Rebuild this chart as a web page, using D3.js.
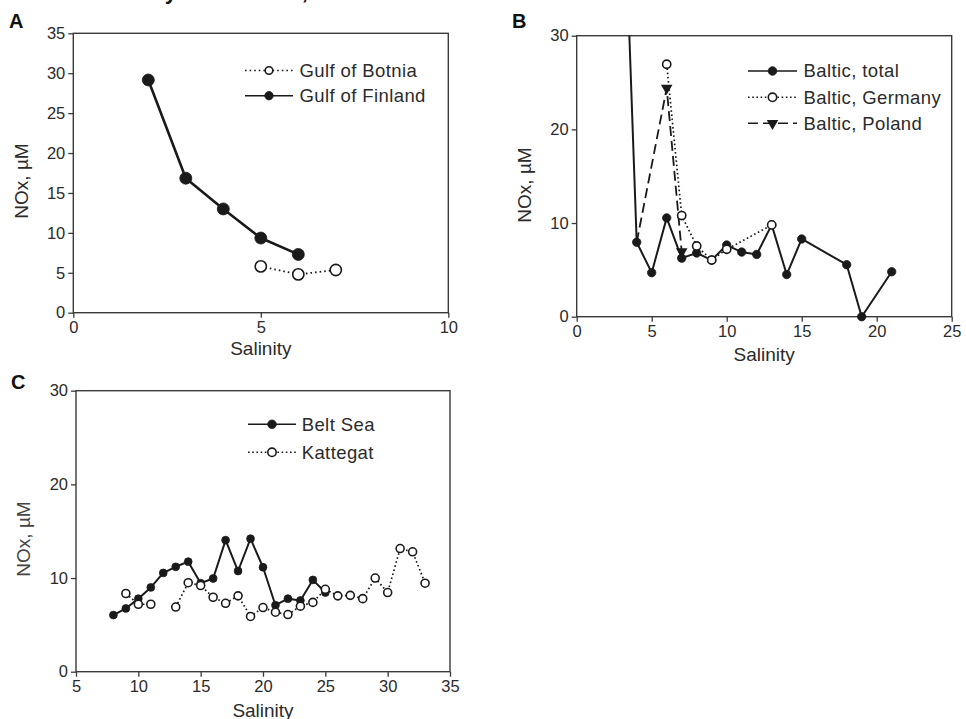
<!DOCTYPE html>
<html>
<head>
<meta charset="utf-8">
<script src="https://cdn.jsdelivr.net/npm/d3@7"></script>
<style>
  html, body { margin: 0; padding: 0; background: #fff; }
  svg { display: block; font-family: "Liberation Sans", Arial, sans-serif; }
</style>
</head>
<body>
<svg id="fig" width="966" height="719"></svg>
<script>
// ---- Panel A: Gulf of Botnia / Gulf of Finland ----
const botniaSal = [5, 6, 7];
const botniaNOx = [5.8, 4.8, 5.35];
const finlandSal = [2, 3, 4, 5, 6];
const finlandNOx = [29.15, 16.85, 13.0, 9.35, 7.3];
const ticksAX = [0, 5, 10];
const ticksAY = [0, 5, 10, 15, 20, 25, 30, 35];

// ---- Panel B: Baltic total / Germany / Poland ----
const balticTotalSal = [3, 4, 5, 6, 7, 8, 9, 10, 11, 12, 13, 14, 15, 18, 19, 21];
const balticTotalNOx = [53, 7.95, 4.7, 10.55, 6.25, 6.8, 6.05, 7.65, 6.9, 6.65, 9.8, 4.5, 8.3, 5.55, 0, 4.8];
const germanySal = [6, 7, 8, 9, 10, 13];
const germanyNOx = [26.95, 10.8, 7.55, 6.05, 7.2, 9.8];
const polandSal = [4, 6, 7];
const polandNOx = [7.95, 24.4, 6.95];
const ticksBX = [0, 5, 10, 15, 20, 25];
const ticksBY = [0, 10, 20, 30];

// ---- Panel C: Belt Sea / Kattegat ----
const beltSal = [8, 9, 10, 11, 12, 13, 14, 15, 16, 17, 18, 19, 20, 21, 22, 23, 24, 25];
const beltNOx = [6.05, 6.75, 7.8, 9.0, 10.55, 11.2, 11.75, 9.45, 9.95, 14.05, 10.75, 14.2, 11.15, 7.1, 7.8, 7.6, 9.8, 8.45];
const kattegatSal = [9, 10, 11, 12, 13, 14, 15, 16, 17, 18, 19, 20, 21, 22, 23, 24, 25, 26, 27, 28, 29, 30, 31, 32, 33];
const kattegatNOx = [8.35, 7.2, 7.2, null, 6.9, 9.5, 9.2, 7.95, 7.3, 8.1, 5.9, 6.85, 6.35, 6.1, 7.0, 7.4, 8.8, 8.1, 8.15, 7.8, 10.0, 8.45, 13.15, 12.8, 9.45];
const ticksCX = [5, 10, 15, 20, 25, 30, 35];
const ticksCY = [0, 10, 20, 30];

const xLabel = "Salinity";
const yLabel = "NOx, µM";

const INK = "#1a1a1a";
const TEXT = "#2b2b2b";
const FRAME = "#3a3a3a";

const svg = d3.select("#fig");

// heading line running off the top edge
svg.append("text")
  .attr("x", 100).attr("y", -1)
  .attr("font-size", 22).attr("font-weight", "bold").attr("fill", "#111")
  .text("NOx by all sea area,");

const zip = (xs, ys) => xs.map((x, i) => ({ x, y: ys[i] }));

function panel(cfg) {
  const g = svg.append("g");
  const x = d3.scaleLinear().domain(cfg.xDomain).range(cfg.xRange);
  const y = d3.scaleLinear().domain(cfg.yDomain).range(cfg.yRange);
  const [x0, x1] = cfg.xRange, [y0, y1] = cfg.yRange;

  // panel letter
  g.append("text").attr("x", cfg.letterPos[0]).attr("y", cfg.letterPos[1])
    .attr("font-size", 20).attr("font-weight", "bold").attr("fill", "#111")
    .text(cfg.letter);

  // axes
  const ax = g.append("g").attr("transform", `translate(0,${y0})`)
    .call(d3.axisBottom(x).tickValues(cfg.xTicks).tickSize(5).tickPadding(4).tickFormat(d3.format("d")));
  const ay = g.append("g").attr("transform", `translate(${x0},0)`)
    .call(d3.axisLeft(y).tickValues(cfg.yTicks).tickSize(5).tickPadding(3).tickFormat(d3.format("d")));
  [ax, ay].forEach(a => {
    a.select(".domain").remove();
    a.selectAll("line").attr("stroke", FRAME).attr("stroke-width", 1.3);
    a.selectAll("text").attr("font-size", 16.5).attr("fill", TEXT)
      .attr("font-family", "Liberation Sans, Arial, sans-serif");
  });

  // frame
  g.append("rect").attr("x", x0).attr("y", y1).attr("width", x1 - x0).attr("height", y0 - y1)
    .attr("fill", "none").attr("stroke", FRAME).attr("stroke-width", 1.4);

  // axis titles
  g.append("text").attr("x", (x0 + x1) / 2).attr("y", cfg.xTitleY)
    .attr("text-anchor", "middle").attr("font-size", 19).attr("fill", TEXT).text(xLabel);
  g.append("text")
    .attr("transform", `translate(${cfg.yTitlePos[0]},${cfg.yTitlePos[1]}) rotate(-90)`)
    .attr("text-anchor", "middle").attr("font-size", 19).attr("fill", cfg.yTitleColor || TEXT).text(yLabel);

  // clip for data
  const clipId = "clip-" + cfg.letter;
  svg.append("clipPath").attr("id", clipId).append("rect")
    .attr("x", x0).attr("y", y1).attr("width", x1 - x0).attr("height", y0 - y1 + 8);
  const data = g.append("g").attr("clip-path", `url(#${clipId})`);

  cfg.series.forEach(s => {
    const pts = zip(s.sal, s.nox);
    const line = d3.line().defined(d => d.y != null).x(d => x(d.x)).y(d => y(d.y));
    data.append("path").datum(pts).attr("d", line)
      .attr("fill", "none").attr("stroke", INK).attr("stroke-width", s.width)
      .attr("stroke-dasharray", s.dash || null).attr("stroke-linejoin", "round");
    drawMarkers(data, pts.filter(d => d.y != null && !(s.skip || []).includes(d.x)), s, x, y, s.r);
  });

  // legend
  cfg.legend.forEach((l, i) => {
    const s = cfg.series[l.idx];
    const ly = cfg.legendY[i];
    g.append("line").attr("x1", cfg.legendX[0]).attr("x2", cfg.legendX[1])
      .attr("y1", ly).attr("y2", ly).attr("stroke", INK).attr("stroke-width", s.legendWidth || 1.6)
      .attr("stroke-dasharray", s.legendDash || s.dash || null);
    const cx = (cfg.legendX[0] + cfg.legendX[1]) / 2;
    drawMarkers(g, [{ x: 0, y: 0 }], s, () => cx, () => ly, s.legendR);
    g.append("text").attr("x", cfg.legendX[2]).attr("y", ly + 6.3)
      .attr("font-size", 18.5).attr("fill", TEXT).attr("letter-spacing", 0.4).text(s.name);
  });
}

function drawMarkers(g, pts, s, x, y, r) {
  if (s.marker === "tri") {
    const sym = d3.symbol().type(d3.symbolTriangle).size(r * r * 3);
    g.selectAll(null).data(pts).enter().append("path")
      .attr("d", sym)
      .attr("transform", d => `translate(${x(d.x)},${y(d.y)}) rotate(180)`)
      .attr("fill", INK);
  } else {
    g.selectAll(null).data(pts).enter().append("circle")
      .attr("cx", d => x(d.x)).attr("cy", d => y(d.y)).attr("r", r)
      .attr("fill", s.marker === "open" ? "#fff" : INK)
      .attr("stroke", INK).attr("stroke-width", s.marker === "open" ? 1.6 : 0.8);
  }
}

panel({
  letter: "A", letterPos: [9, 28],
  xDomain: [0, 10], xRange: [73.3, 448.3],
  yDomain: [0, 35], yRange: [312.7, 33.3],
  xTicks: ticksAX, yTicks: ticksAY,
  xTitleY: 355, yTitlePos: [28, 181],
  series: [
    { name: "Gulf of Finland", sal: finlandSal, nox: finlandNOx, marker: "filled", r: 6, width: 2.6, legendR: 4.2 },
    { name: "Gulf of Botnia", sal: botniaSal, nox: botniaNOx, marker: "open", r: 5.6, width: 1.8, dash: "1.6,3", legendR: 3.8 }
  ],
  legend: [{ idx: 1 }, { idx: 0 }],
  legendY: [70.5, 95.7], legendX: [245, 293, 299.5]
});

panel({
  letter: "B", letterPos: [512, 28],
  xDomain: [0, 25], xRange: [576.7, 951.7],
  yDomain: [0, 30], yRange: [316.7, 35.7],
  xTicks: ticksBX, yTicks: ticksBY,
  xTitleY: 360.5, yTitlePos: [531, 185],
  series: [
    { name: "Baltic, total", sal: balticTotalSal, nox: balticTotalNOx, marker: "filled", r: 4.2, width: 2, legendR: 4.3 },
    { name: "Baltic, Poland", sal: polandSal, nox: polandNOx, marker: "tri", r: 4.4, width: 1.8, dash: "10,5", legendR: 4.4, skip: [4] },
    { name: "Baltic, Germany", sal: germanySal, nox: germanyNOx, marker: "open", r: 4.1, width: 1.7, dash: "1.6,2.6", legendR: 4.2 }
  ],
  legend: [{ idx: 0 }, { idx: 2 }, { idx: 1 }],
  legendY: [71, 97.3, 123.3], legendX: [748, 797, 803.5]
});

panel({
  letter: "C", letterPos: [11, 389],
  xDomain: [5, 35], xRange: [76, 450],
  yDomain: [0, 30], yRange: [671.7, 390.7],
  xTicks: ticksCX, yTicks: ticksCY,
  xTitleY: 716.5, yTitlePos: [30, 539], yTitleColor: "#444",
  series: [
    { name: "Belt Sea", sal: beltSal, nox: beltNOx, marker: "filled", r: 3.9, width: 2, legendR: 4.3 },
    { name: "Kattegat", sal: kattegatSal, nox: kattegatNOx, marker: "open", r: 4.0, width: 1.7, dash: "1.6,2.6", legendR: 4.2 }
  ],
  legend: [{ idx: 0 }, { idx: 1 }],
  legendY: [424.3, 452.3], legendX: [248, 296, 301.7]
});
</script>
</body>
</html>
